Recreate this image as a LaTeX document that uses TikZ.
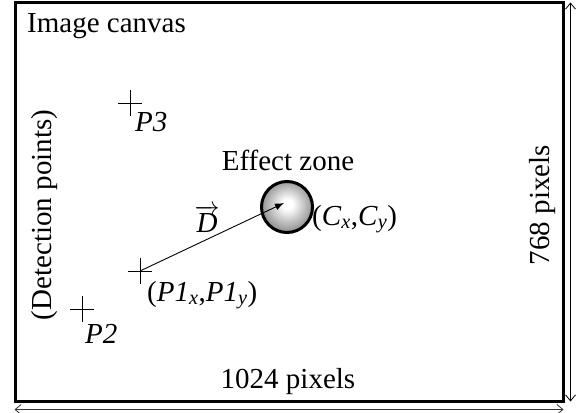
\documentclass[tikz,border=0pt]{standalone}
\usepackage{fontspec}
\setmainfont{Liberation Serif}
\usetikzlibrary{arrows.meta}
\pgfdeclareradialshading{zoneshade}{\pgfpoint{0.5bp}{3bp}}{color(0bp)=(white); color(5bp)=(white); color(25bp)=(black!42); color(50bp)=(black!42)}
\begin{document}
\begin{tikzpicture}[x=1pt,y=-1pt,
  lbl/.style={inner sep=0pt, font=\fontsize{29}{33}\selectfont},
  crossline/.style={line width=0.9pt},
  dimarrow/.style={line width=0.8pt, {Straight Barb[length=6pt,width=10pt]}-{Straight Barb[length=6pt,width=10pt]}}]
\useasboundingbox (0,0) rectangle (580,412);
% canvas frame
\node[draw, line width=3pt, minimum width=548pt, minimum height=398pt, inner sep=0pt] (canvas) at (289,202) {};
% dimension arrows
\draw[dimarrow, black!80] ([yshift=-7pt,xshift=1pt]canvas.south west) -- ([yshift=-7pt,xshift=-1pt]canvas.south east);
\draw[dimarrow] ([xshift=6pt,yshift=-1pt]canvas.north east) -- ([xshift=6pt,yshift=1pt]canvas.south east);
% texts
\node[lbl, anchor=west] (title) at (27,26) {Image canvas};
\node[lbl] (width) at (288,382) {1024 pixels};
\node[lbl, rotate=90] (height) at (543,205) {768 pixels};
\node[lbl, rotate=90] (det) at (45,215) {(Detection points)};
% effect zone
\node[circle, draw, line width=3pt, minimum size=51pt, inner sep=0pt, shading=zoneshade] (zone) at (287,207) {};
\node[lbl] (zonelbl) at (288,160) {Effect zone};
\node[lbl, anchor=west] (clbl) at (312,219) {(\textit{C}\textsubscript{\textit{x}},\textit{C}\textsubscript{\textit{y}})};
% detection points
\coordinate (p1) at (140,271);
\coordinate (p2) at (82,309);
\coordinate (p3) at (130,103);
\foreach \p in {p1,p2,p3}{
  \draw[crossline] (\p) +(-12,0) -- +(12,0);
  \draw[crossline] (\p) +(0,-13) -- +(0,13);
}
\node[lbl, anchor=west] (p1lbl) at (147,295) {(\textit{P1}\textsubscript{\textit{x}},\textit{P1}\textsubscript{\textit{y}})};
\node[lbl, anchor=west] (p2lbl) at (85,334) {\textit{P2}};
\node[lbl, anchor=west] (p3lbl) at (135,122) {\textit{P3}};
% vector
\coordinate (tip) at (284,203);
\draw[line width=0.9pt, -{Latex[length=9pt,width=7pt]}] (p1) -- (tip);
\node[lbl] (dlbl) at (207,219) {$\overrightarrow{\mbox{\textit{D}}}$};
\end{tikzpicture}
\end{document}
